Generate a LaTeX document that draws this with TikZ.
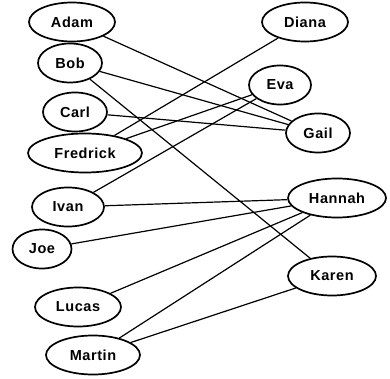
\documentclass[tikz,border=0pt]{standalone}
\usepackage{fontspec}
\setmainfont{Liberation Sans}
\newfontfamily\namefont[LetterSpace=4]{Liberation Sans}
\usetikzlibrary{shapes.geometric}
\tikzset{
  person/.style={ellipse, draw, line width=1.7pt, minimum height=39pt, minimum width=#1, inner sep=0pt, font=\namefont\fontsize{14.5}{16}\selectfont\bfseries},
  link/.style={line width=1.2pt}
}
\begin{document}
\begin{tikzpicture}[x=1pt,y=-1pt]
\useasboundingbox (0,0) rectangle (390,379);
\node[person=86pt] (adam) at (72,22) {Adam};
\node[person=64pt] (bob) at (70,63) {Bob};
\node[person=64pt] (carl) at (75,112) {Carl};
\node[person=114pt] (fred) at (85,153) {Fredrick};
\node[person=72pt] (ivan) at (68,207) {Ivan};
\node[person=59pt] (joe) at (42,249) {Joe};
\node[person=86pt] (lucas) at (78,307) {Lucas};
\node[person=94pt] (martin) at (93,355) {Martin};
\node[person=86pt] (diana) at (305,22) {Diana};
\node[person=62pt] (eva) at (280,85) {Eva};
\node[person=64pt] (gail) at (318,133) {Gail};
\node[person=98pt] (hannah) at (337,198) {Hannah};
\node[person=88pt] (karen) at (332,276) {Karen};
\draw[link] (adam) -- (gail);
\draw[link] (bob) -- (gail);
\draw[link] (bob) -- (karen);
\draw[link] (carl) -- (gail);
\draw[link] (fred) -- (diana);
\draw[link] (fred) -- (eva);
\draw[link] (ivan) -- (eva);
\draw[link] (ivan) -- (hannah);
\draw[link] (joe) -- (hannah);
\draw[link] (lucas) -- (hannah);
\draw[link] (martin) -- (hannah);
\draw[link] (martin) -- (karen);
\end{tikzpicture}
\end{document}
